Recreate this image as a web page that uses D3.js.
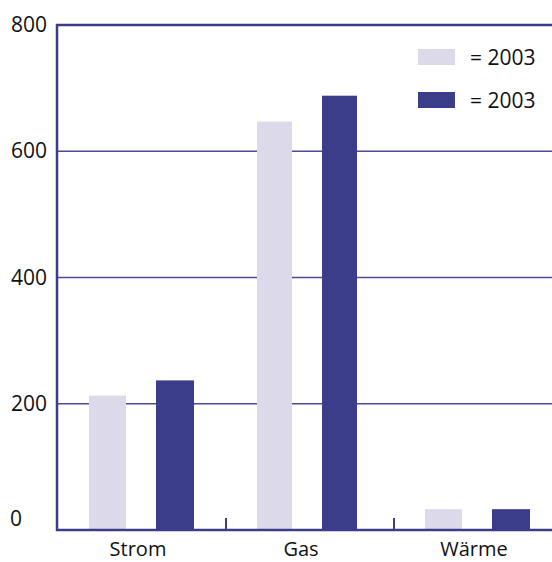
<!DOCTYPE html>
<html>
<head>
<meta charset="utf-8">
<script src="https://cdn.jsdelivr.net/npm/d3@7"></script>
<style>
  body { margin: 0; background: #fff; }
  text { font-family: "Open Sans", "Noto Sans", sans-serif; fill: #111; }
</style>
</head>
<body>
<div class="chart-container"></div>
<script>
// data
const categories = ["Strom", "Gas", "Wärme"];
const seriesA = [213, 647, 33]; // light bars
const seriesB = [237, 688, 33]; // dark bars
const legendLabels = ["= 2003", "= 2003"];
const yTicks = [0, 200, 400, 600, 800];

const w = 552;
const h = 562;
const light = "#dcdaea";
const dark = "#3b3d8a";

const svg = d3
  .select(".chart-container")
  .append("svg")
  .attr("width", w)
  .attr("height", h);

// scales
const xScale = d3.scaleBand().domain(categories).range([59, 563]);
const yScale = d3.scaleLinear().domain([0, 800]).range([530, 25]);

// gridlines
svg
  .selectAll(".grid")
  .data(yTicks.filter((d) => d > 0 && d < 800))
  .enter()
  .append("line")
  .attr("x1", 57)
  .attr("x2", w)
  .attr("y1", (d) => yScale(d))
  .attr("y2", (d) => yScale(d))
  .attr("stroke", "#4a4c96")
  .attr("stroke-width", 1.3);

// bars
const barW = 37;
const groups = svg
  .selectAll(".cat")
  .data(categories)
  .enter()
  .append("g");

groups
  .append("rect")
  .attr("x", (d) => xScale(d) + 30)
  .attr("y", (d, i) => yScale(seriesA[i]))
  .attr("width", (d, i) => (i === 1 ? 35 : barW))
  .attr("height", (d, i) => yScale(0) - yScale(seriesA[i]))
  .attr("fill", light);

groups
  .append("rect")
  .attr("x", (d, i) => xScale(d) + (i === 1 ? 95 : 97))
  .attr("y", (d, i) => yScale(seriesB[i]))
  .attr("width", (d, i) => (i === 1 ? 35 : barW + 1))
  .attr("height", (d, i) => yScale(0) - yScale(seriesB[i]))
  .attr("fill", dark);

// axis frame
svg
  .append("path")
  .attr("d", `M${w},${yScale(800)}H57V${yScale(0)}H${w}`)
  .attr("fill", "none")
  .attr("stroke", dark)
  .attr("stroke-width", 2.5);

// category separator ticks
svg
  .selectAll(".sep")
  .data(categories.slice(1))
  .enter()
  .append("line")
  .attr("x1", (d) => xScale(d) - 1)
  .attr("x2", (d) => xScale(d) - 1)
  .attr("y1", yScale(0) - 12)
  .attr("y2", yScale(0))
  .attr("stroke", dark)
  .attr("stroke-width", 2);

// y labels
svg
  .selectAll(".ylab")
  .data(yTicks)
  .enter()
  .append("text")
  .attr("x", (d) => (d === 0 ? 10 : 11))
  .attr("y", (d) => (d === 0 ? yScale(d) - 4 : yScale(d) + 7))
  .style("font-size", "21px")
  .text((d) => d);

// x labels
svg
  .selectAll(".xlab")
  .data(categories)
  .enter()
  .append("text")
  .attr("x", (d, i) => xScale(d) + [79, 74, 79][i])
  .attr("y", 556)
  .attr("text-anchor", "middle")
  .style("font-size", "20px")
  .text((d) => d);

// legend
const legend = svg
  .selectAll(".legend")
  .data(legendLabels)
  .enter()
  .append("g")
  .attr("transform", (d, i) => `translate(418,${49 + i * 43})`);

legend
  .append("rect")
  .attr("width", 37)
  .attr("height", 16)
  .attr("fill", (d, i) => (i === 0 ? light : dark));

legend
  .append("text")
  .attr("x", 52)
  .attr("y", 16)
  .style("font-size", "21px")
  .text((d) => d);
</script>
</body>
</html>
